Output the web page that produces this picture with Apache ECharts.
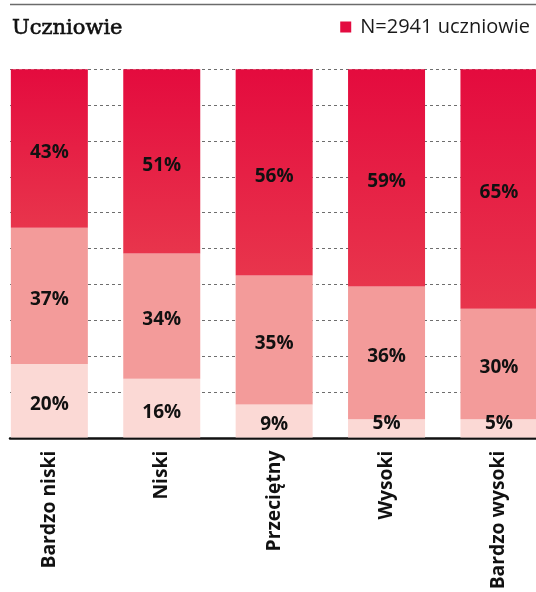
<!DOCTYPE html>
<html>
<head>
<meta charset="utf-8">
<script src="https://cdn.jsdelivr.net/npm/echarts@6/dist/echarts.min.js"></script>
<style>
  html, body { margin: 0; padding: 0; background: #fff; }
  #chart { width: 536px; height: 592px; }
</style>
</head>
<body>
<div id="chart"></div>
<script>
// Poziom kompetencji uczniów – udział grup w każdej kategorii (%)
const categories = ['Bardzo niski', 'Niski', 'Przeciętny', 'Wysoki', 'Bardzo wysoki'];
const lowShare  = [20, 16, 9, 5, 5];
const midShare  = [37, 34, 35, 36, 30];
const highShare = [43, 51, 56, 59, 65];
const legendLabel = 'N=2941 uczniowie';
const titleText = 'Uczniowie';

const SANS = '"Open Sans", "Noto Sans", sans-serif';

// small segments keep their label resting near the baseline
function withLabels(values) {
  return values.map(v => v < 8
    ? { value: v, label: { position: 'insideBottom', distance: 5, offset: [0, 0] } }
    : { value: v });
}

const barLabel = {
  show: true,
  position: 'inside',
  offset: [0, 4],
  formatter: '{c}%',
  color: '#111',
  fontFamily: SANS,
  fontWeight: 'bold',
  fontSize: 19
};

const chart = echarts.init(document.getElementById('chart'), null, { renderer: 'canvas' });

chart.setOption({
  animation: false,
  backgroundColor: '#fff',
  title: {
    text: titleText,
    left: 12,
    top: 18,
    padding: 0,
    textStyle: {
      fontFamily: '"DejaVu Serif", serif',
      fontSize: 21,
      fontWeight: 'normal',
      color: '#111',
      // a thin outline gives the heading a semibold weight
      textBorderColor: '#111',
      textBorderWidth: 0.6
    }
  },
  legend: {
    data: [{ name: legendLabel, itemStyle: { color: '#e30b40' } }],
    right: 6,
    top: 17,
    padding: 0,
    icon: 'rect',
    itemWidth: 11,
    itemHeight: 11,
    selectedMode: false,
    textStyle: { fontFamily: SANS, fontSize: 20, color: '#1a1a1a', padding: [0, 0, 0, 4] }
  },
  graphic: [{
    type: 'line',
    shape: { x1: 10, y1: 4.5, x2: 536, y2: 4.5 },
    style: { stroke: '#6b6b6b', lineWidth: 1.3 },
    silent: true
  }],
  grid: [
    { left: -6.85, width: 562, top: 69.3, bottom: 154.4, outerBoundsMode: 'none' },
    { left: 10, right: 0, top: 69.3, bottom: 200.2, outerBoundsMode: 'none' }
  ],
  xAxis: [
    {
      type: 'category',
      gridIndex: 0,
      data: categories,
      axisLine: { show: false },
      axisTick: { show: false },
      axisLabel: {
        rotate: 90,
        margin: 13,
        color: '#111',
        fontFamily: SANS,
        fontWeight: 'bold',
        fontSize: 19.3
      }
    },
    {
      type: 'value',
      gridIndex: 1,
      min: 0,
      max: 1,
      offset: 46.5,
      axisLine: { show: true, onZero: false, lineStyle: { color: '#111', width: 2.5 } },
      axisTick: { show: false },
      axisLabel: { show: false },
      splitLine: { show: false }
    }
  ],
  yAxis: [
    {
      type: 'value',
      gridIndex: 0,
      min: 0,
      max: 100,
      show: false
    },
    {
      type: 'value',
      gridIndex: 1,
      min: 0,
      max: 9,
      interval: 1,
      axisLine: { show: false },
      axisTick: { show: false },
      axisLabel: { show: false },
      splitLine: { show: true, lineStyle: { color: '#6e6e6e', width: 1, type: [3, 3] } }
    }
  ],
  series: [
    {
      name: 'dolny',
      type: 'bar',
      stack: 'udzial',
      xAxisIndex: 0,
      yAxisIndex: 0,
      barWidth: 77,
      itemStyle: { color: '#fbd9d5' },
      label: barLabel,
      data: withLabels(lowShare)
    },
    {
      name: 'środkowy',
      type: 'bar',
      stack: 'udzial',
      xAxisIndex: 0,
      yAxisIndex: 0,
      barWidth: 77,
      itemStyle: { color: '#f39b9a' },
      label: barLabel,
      data: withLabels(midShare)
    },
    {
      name: legendLabel,
      type: 'bar',
      stack: 'udzial',
      xAxisIndex: 0,
      yAxisIndex: 0,
      barWidth: 77,
      clip: true,
      itemStyle: {
        color: new echarts.graphic.LinearGradient(0, 0, 0, 1, [
          { offset: 0, color: '#e40b3e' },
          { offset: 1, color: '#e8354c' }
        ])
      },
      label: barLabel,
      data: withLabels(highShare)
    }
  ]
});
</script>
</body>
</html>
